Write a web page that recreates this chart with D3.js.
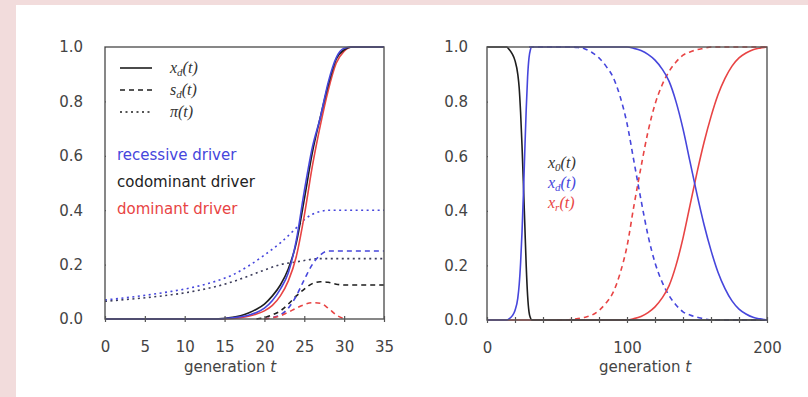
<!DOCTYPE html>
<meta charset="utf-8">
<style>

body {
    margin: 0;
    background: #f2dcdc;
}

.tick text {
    font: 15px "DejaVu Sans", sans-serif;
    fill: #444;
}

.tick line {
    stroke: #555;
    stroke-width: 1.2px;
}

.frame {
    fill: none;
    stroke: #555;
    stroke-width: 1.4px;
}

.curve {
    fill: none;
    stroke-width: 1.6px;
}

.xlabel {
    font: 15px "DejaVu Sans", sans-serif;
    fill: #444;
}

.math {
    font: italic 16px "Liberation Serif", serif;
}

.driver {
    font: 15px "DejaVu Sans", sans-serif;
}

</style>

<svg width="808" height="397"></svg>
<script src="https://cdn.jsdelivr.net/npm/d3@7"></script>

<script>

// left panel: generations 0-35
var leftTicks = [0, 5, 10, 15, 20, 25, 30, 35];
var yTicks = [0, 0.2, 0.4, 0.6, 0.8, 1.0];

var xdT = [0, 10, 14, 15, 16, 17, 18, 19, 20, 21, 22, 23, 24, 25, 26, 27, 28, 29, 30, 31, 35];
var xdRecessive = [0, 0, 0, 0.002, 0.004, 0.008, 0.014, 0.024, 0.04, 0.068, 0.11, 0.17, 0.29, 0.47, 0.63, 0.74, 0.87, 0.96, 0.995, 1, 1];
var xdCodominant = [0, 0, 0, 0.003, 0.006, 0.012, 0.022, 0.036, 0.055, 0.085, 0.125, 0.185, 0.28, 0.44, 0.61, 0.74, 0.86, 0.955, 0.99, 1, 1];
var xdDominant = [0, 0, 0, 0.001, 0.002, 0.005, 0.01, 0.018, 0.03, 0.05, 0.085, 0.14, 0.23, 0.38, 0.56, 0.71, 0.84, 0.94, 0.985, 1, 1];

var sdRecT = [20, 21, 22, 23, 24, 25, 26, 27, 28, 29, 35];
var sdRecessive = [0, 0.005, 0.015, 0.04, 0.085, 0.145, 0.2, 0.235, 0.25, 0.25, 0.25];
var sdCodT = [19, 20, 21, 22, 23, 24, 25, 26, 27, 28, 29, 30, 35];
var sdCodominant = [0, 0.005, 0.015, 0.03, 0.055, 0.085, 0.11, 0.13, 0.137, 0.135, 0.128, 0.125, 0.125];
var sdDomT = [20, 21, 22, 23, 24, 25, 26, 27, 28, 29, 30];
var sdDominant = [0, 0.005, 0.012, 0.025, 0.04, 0.053, 0.06, 0.058, 0.04, 0.015, 0];

var piT = [0, 2, 4, 6, 8, 10, 12, 14, 16, 18, 20, 22, 24, 25, 26, 27, 28, 30, 35];
var piRecessive = [0.07, 0.076, 0.083, 0.091, 0.1, 0.11, 0.123, 0.14, 0.162, 0.195, 0.235, 0.28, 0.335, 0.365, 0.385, 0.395, 0.4, 0.4, 0.4];
var piCodominant = [0.065, 0.07, 0.075, 0.081, 0.088, 0.096, 0.107, 0.12, 0.137, 0.158, 0.18, 0.2, 0.21, 0.215, 0.22, 0.222, 0.222, 0.222, 0.222];

// right panel: generations 0-200
var rightTicks = [0, 20, 40, 60, 80, 100, 120, 140, 160, 180, 200];

var x0T = [0, 10, 14, 16, 18, 20, 22, 23, 24, 25, 26, 27, 28, 29, 30, 31, 32, 200];
var x0 = [1, 1, 1, 0.99, 0.975, 0.95, 0.9, 0.85, 0.76, 0.64, 0.5, 0.35, 0.2, 0.09, 0.03, 0.008, 0, 0];

var xdRightT = [0, 14, 16, 18, 20, 22, 23, 24, 25, 26, 27, 28, 29, 30, 31, 32, 100, 105, 110, 115, 120, 125, 130, 135, 140, 145, 150, 155, 160, 165, 170, 175, 180, 185, 190, 195, 200];
var xdRight = [0, 0, 0.005, 0.015, 0.035, 0.08, 0.13, 0.21, 0.32, 0.46, 0.62, 0.77, 0.89, 0.96, 0.99, 1, 1, 0.995, 0.987, 0.973, 0.952, 0.92, 0.875, 0.8, 0.7, 0.58, 0.46, 0.35, 0.255, 0.175, 0.115, 0.07, 0.04, 0.022, 0.01, 0.004, 0];

var xrT = [0, 100, 105, 110, 115, 120, 125, 130, 135, 140, 145, 150, 155, 160, 165, 170, 175, 180, 185, 190, 195, 200];
var xr = [0, 0, 0.005, 0.013, 0.027, 0.048, 0.08, 0.125, 0.2, 0.3, 0.42, 0.54, 0.65, 0.745, 0.825, 0.885, 0.93, 0.96, 0.978, 0.99, 0.996, 1];

var sdBlueT = [30, 60, 65, 70, 75, 80, 85, 90, 95, 100, 105, 110, 115, 120, 125, 130, 135, 140, 145, 150, 155, 160, 200];
var sdBlue = [1, 1, 0.998, 0.993, 0.98, 0.96, 0.93, 0.89, 0.82, 0.72, 0.58, 0.44, 0.31, 0.21, 0.14, 0.09, 0.055, 0.03, 0.018, 0.01, 0.005, 0, 0];
var srRedT = [50, 60, 65, 70, 75, 80, 85, 90, 95, 100, 105, 110, 115, 120, 125, 130, 135, 140, 145, 150, 155, 160, 200];
var srRed = [0, 0.002, 0.005, 0.01, 0.018, 0.035, 0.062, 0.1, 0.17, 0.27, 0.42, 0.56, 0.69, 0.79, 0.86, 0.91, 0.945, 0.97, 0.982, 0.99, 0.995, 1, 1];

var blue = "#4646dc",
    red = "#e84444",
    black = "#1e1e1e";

var svg = d3.select("svg");

svg.append("rect")
    .attr("x", 16)
    .attr("y", 5)
    .attr("width", 808 - 16)
    .attr("height", 397 - 5)
    .attr("fill", "#fff");

var xL = d3.scaleLinear().domain([0, 35]).range([105, 384]);
var yL = d3.scaleLinear().domain([0, 1]).range([319, 47]);
var xR = d3.scaleLinear().domain([0, 200]).range([487, 767]);
var yR = d3.scaleLinear().domain([0, 1]).range([320, 47]);

function pairs(ts, vs) {
    return ts.map(function(t, i) { return [t, vs[i]]; });
}

function drawCurve(x, y, ts, vs, color, dash) {
    var line = d3.line()
        .x(function(d) { return x(d[0]); })
        .y(function(d) { return y(d[1]); })
        .curve(d3.curveMonotoneX);
    svg.append("path")
        .attr("class", "curve")
        .attr("d", line(pairs(ts, vs)))
        .attr("stroke", color)
        .attr("stroke-dasharray", dash || null);
}

function drawAxes(x, y, xTicks, xFormat, yPad, labelX) {
    svg.append("g")
        .attr("transform", "translate(0," + y.range()[0] + ")")
        .call(d3.axisBottom(x).tickValues(xTicks).tickFormat(xFormat).tickSize(4).tickPadding(18))
        .call(function(g) { g.select(".domain").remove(); })
        .selectAll(".tick line")
        .attr("y1", -3)
        .attr("y2", 3);

    svg.append("g")
        .attr("transform", "translate(" + x.range()[0] + ",0)")
        .call(d3.axisLeft(y).tickValues(yTicks).tickFormat(d3.format(".1f")).tickSize(4).tickPadding(yPad))
        .call(function(g) { g.select(".domain").remove(); })
        .selectAll(".tick line")
        .attr("x2", 1);

    svg.append("rect")
        .attr("class", "frame")
        .attr("x", x.range()[0])
        .attr("y", y.range()[1])
        .attr("width", x.range()[1] - x.range()[0])
        .attr("height", y.range()[0] - y.range()[1]);

    var lab = svg.append("text")
        .attr("class", "xlabel")
        .attr("x", labelX)
        .attr("y", 372)
        .attr("text-anchor", "middle");
    lab.append("tspan").text("generation ");
    lab.append("tspan").attr("font-style", "italic").text("t");
}

function mathLabel(x, y, sub, color, base) {
    var t = svg.append("text")
        .attr("class", "math")
        .attr("x", x)
        .attr("y", y)
        .attr("fill", color);
    t.append("tspan").text(base);
    if (sub) {
        t.append("tspan").attr("font-size", "11px").attr("dy", 3).text(sub);
        t.append("tspan").attr("dy", -3).text("(t)");
    } else {
        t.append("tspan").text("(t)");
    }
}

// left panel
drawCurve(xL, yL, piT, piCodominant, "#3c3c5a", "2,3.5");
drawCurve(xL, yL, piT, piRecessive, blue, "2,3.5");
drawCurve(xL, yL, sdCodT, sdCodominant, black, "5,4");
drawCurve(xL, yL, sdRecT, sdRecessive, blue, "5,4");
drawCurve(xL, yL, sdDomT, sdDominant, red, "5,4");
drawCurve(xL, yL, xdT, xdDominant, red);
drawCurve(xL, yL, xdT, xdCodominant, black);
drawCurve(xL, yL, xdT, xdRecessive, blue);

drawAxes(xL, yL, leftTicks, d3.format("d"), 18, 230);

var legendRows = [
    {dash: null, base: "x", sub: "d"},
    {dash: "5,4", base: "s", sub: "d"},
    {dash: "2,3.5", base: "π", sub: ""}
];
legendRows.forEach(function(r, i) {
    var ly = 68 + i * 22;
    svg.append("line")
        .attr("x1", 120)
        .attr("x2", 152)
        .attr("y1", ly)
        .attr("y2", ly)
        .attr("stroke", black)
        .attr("stroke-width", 1.6)
        .attr("stroke-dasharray", r.dash);
    mathLabel(170, ly + 5, r.sub, "#333", r.base);
});

var drivers = ["recessive driver", "codominant driver", "dominant driver"];
var driverColors = [blue, "#222", red];
drivers.forEach(function(d, i) {
    svg.append("text")
        .attr("class", "driver")
        .attr("x", 117)
        .attr("y", 160 + i * 27)
        .attr("fill", driverColors[i])
        .text(d);
});

// right panel
drawCurve(xR, yR, srRedT, srRed, red, "5,4");
drawCurve(xR, yR, sdBlueT, sdBlue, blue, "5,4");
drawCurve(xR, yR, xrT, xr, red);
drawCurve(xR, yR, x0T, x0, black);
drawCurve(xR, yR, xdRightT, xdRight, blue);

drawAxes(xR, yR, rightTicks, function(d) { return d % 100 === 0 ? d : ""; }, 15, 645);

mathLabel(548, 168, "0", "#333", "x");
mathLabel(548, 188, "d", blue, "x");
mathLabel(548, 208, "r", red, "x");

</script>
